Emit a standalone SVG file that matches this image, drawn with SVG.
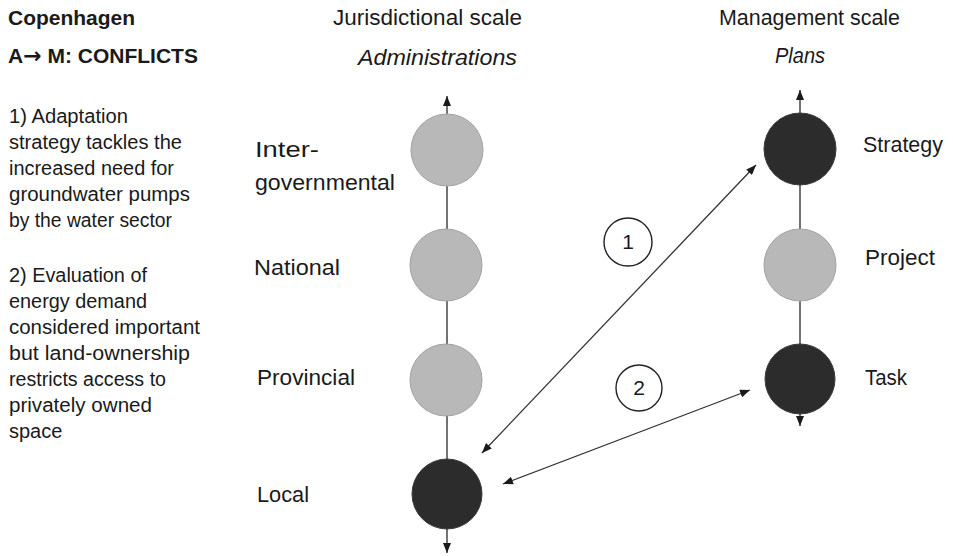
<svg xmlns="http://www.w3.org/2000/svg" width="953" height="556" viewBox="0 0 953 556">
<defs>
<marker id="ah" viewBox="0 0 10 8" refX="10" refY="4" markerWidth="10" markerHeight="8" markerUnits="userSpaceOnUse" orient="auto-start-reverse">
<path d="M0,0 L10,4 L0,8 z" fill="#1a1a1a"/>
</marker>
<style>
text{font-family:"Liberation Sans",Arial,sans-serif;fill:#1a1a1a;}
.b{font-weight:bold;font-size:21px;}
.t{font-size:20px;}
.h{font-size:22px;}
.i{font-size:22px;font-style:italic;}
.l{font-size:22.5px;}
.axis{stroke:#444;stroke-width:1.5;fill:none;}
.conn{stroke:#333;stroke-width:1.3;fill:none;}
.light{fill:#b8b8b8;stroke:#a2a2a2;stroke-width:1;}
.dark{fill:#2c2c2c;stroke:#3a3a3a;stroke-width:1;}
.num{fill:#fff;stroke:#222;stroke-width:1.4;}
.n{font-size:21px;text-anchor:middle;}
</style>
</defs>
<rect width="953" height="556" fill="#fff"/>
<g id="title">
<text class="b" x="8" y="25" textLength="127" lengthAdjust="spacingAndGlyphs">Copenhagen</text>
<text class="b" x="8" y="63">A<tspan font-family="DejaVu Sans" font-size="22">→</tspan> M: CONFLICTS</text>
</g>
<g id="notes">
<text class="t" x="9" y="123" textLength="119" lengthAdjust="spacingAndGlyphs">1) Adaptation</text>
<text class="t" x="9" y="149" textLength="173" lengthAdjust="spacingAndGlyphs">strategy tackles the</text>
<text class="t" x="9" y="175" textLength="165" lengthAdjust="spacingAndGlyphs">increased need for</text>
<text class="t" x="9" y="201" textLength="181" lengthAdjust="spacingAndGlyphs">groundwater pumps</text>
<text class="t" x="9" y="227" textLength="163" lengthAdjust="spacingAndGlyphs">by the water sector</text>
<text class="t" x="9" y="282" textLength="138" lengthAdjust="spacingAndGlyphs">2) Evaluation of</text>
<text class="t" x="9" y="308" textLength="138" lengthAdjust="spacingAndGlyphs">energy demand</text>
<text class="t" x="9" y="334" textLength="191" lengthAdjust="spacingAndGlyphs">considered important</text>
<text class="t" x="9" y="360" textLength="181" lengthAdjust="spacingAndGlyphs">but land-ownership</text>
<text class="t" x="9" y="386" textLength="157" lengthAdjust="spacingAndGlyphs">restricts access to</text>
<text class="t" x="9" y="412" textLength="143" lengthAdjust="spacingAndGlyphs">privately owned</text>
<text class="t" x="9" y="438">space</text>
</g>
<g id="headers">
<text class="h" x="333" y="25" textLength="189" lengthAdjust="spacingAndGlyphs">Jurisdictional scale</text>
<text class="i" x="358" y="65" textLength="159" lengthAdjust="spacingAndGlyphs">Administrations</text>
<text class="h" x="719" y="25" textLength="181" lengthAdjust="spacingAndGlyphs">Management scale</text>
<text class="i" x="775" y="63" textLength="50" lengthAdjust="spacingAndGlyphs">Plans</text>
</g>
<g id="connectors">
<line class="axis" x1="447" y1="96" x2="447" y2="553" marker-start="url(#ah)" marker-end="url(#ah)"/>
<line class="axis" x1="800" y1="90" x2="800" y2="426" marker-start="url(#ah)" marker-end="url(#ah)"/>
<line class="conn" x1="482" y1="453" x2="756" y2="165" marker-start="url(#ah)" marker-end="url(#ah)"/>
<line class="conn" x1="503" y1="484" x2="750" y2="390" marker-start="url(#ah)" marker-end="url(#ah)"/>
</g>
<g id="intergovernmental">
<circle class="light" cx="447" cy="150" r="36"/>
<text class="l" x="255" y="157" textLength="64" lengthAdjust="spacingAndGlyphs">Inter-</text>
<text class="l" x="255" y="190" textLength="140" lengthAdjust="spacingAndGlyphs">governmental</text>
</g>
<g id="national">
<circle class="light" cx="446" cy="265" r="36"/>
<text class="l" x="254" y="275" textLength="86" lengthAdjust="spacingAndGlyphs">National</text>
</g>
<g id="provincial">
<circle class="light" cx="446" cy="380" r="36"/>
<text class="l" x="257" y="385" textLength="98" lengthAdjust="spacingAndGlyphs">Provincial</text>
</g>
<g id="local">
<circle class="dark" cx="447" cy="494" r="35"/>
<text class="l" x="257" y="502" textLength="52" lengthAdjust="spacingAndGlyphs">Local</text>
</g>
<g id="strategy">
<circle class="dark" cx="800" cy="149" r="36"/>
<text class="l" x="863" y="152" textLength="80" lengthAdjust="spacingAndGlyphs">Strategy</text>
</g>
<g id="project">
<circle class="light" cx="800" cy="265" r="36"/>
<text class="l" x="865" y="265" textLength="70" lengthAdjust="spacingAndGlyphs">Project</text>
</g>
<g id="task">
<circle class="dark" cx="800" cy="379" r="35"/>
<text class="l" x="865" y="385" textLength="42" lengthAdjust="spacingAndGlyphs">Task</text>
</g>
<g id="label1">
<circle class="num" cx="628" cy="242" r="24"/>
<text class="n" x="628" y="249">1</text>
</g>
<g id="label2">
<circle class="num" cx="639" cy="388" r="23"/>
<text class="n" x="639" y="395">2</text>
</g>
</svg>
